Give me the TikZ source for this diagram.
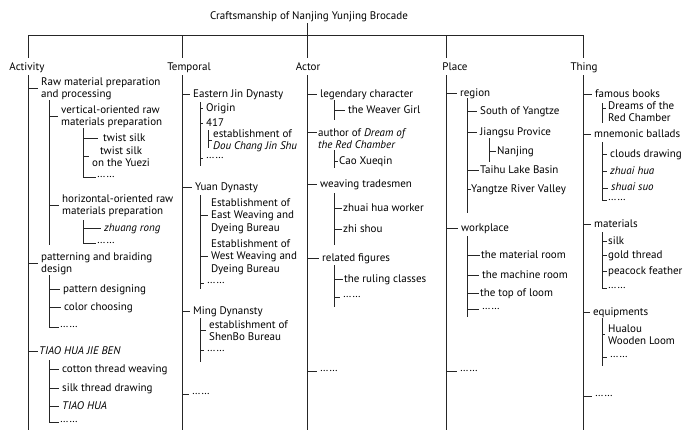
\documentclass[tikz,border=0pt]{standalone}
\usepackage{fontspec}
\setmainfont{PT Sans}
\newcommand\mytick[3][3pt]{\draw[ln] (#2 |- #3.west) -- ([xshift=-#1]#3.west);}
\begin{document}
\begin{tikzpicture}[x=1pt,y=-1pt,
  every node/.style={font=\fontsize{11}{12.5}\selectfont},
  lab/.style={anchor=base west, inner sep=0pt, text height=7.5pt, text depth=2.2pt},
  labm/.style={anchor=base west, inner sep=0pt, align=left},
  labc/.style={anchor=base west, inner sep=0pt, align=center},
  dotn/.style={anchor=base west, inner sep=0pt, text height=1.2pt, text depth=0pt},
  head/.style={anchor=base, inner sep=0pt, text height=7.5pt, text depth=2.2pt},
  ln/.style={line width=0.7pt, draw=black!85}]
\useasboundingbox (0,0) rectangle (686,432);

% title and column heads
\node[head] (title) at (309,19) {Craftsmanship of Nanjing Yunjing Brocade};
\node[head] (act) at (27,70) {Activity};
\node[head] (tem) at (189,70) {Temporal};
\node[head] (acr) at (308,70) {Actor};
\node[head] (pla) at (455,70) {Place};
\node[head] (thi) at (584,70) {Thing};
\coordinate (dA) at (28,35);
\coordinate (dT) at (182,35);
\coordinate (dC) at (307,35);
\coordinate (dP) at (446,35);
\coordinate (dH) at (583,35);
\draw[ln] ([yshift=-2pt]title.south -| dC) -- (dC);
\draw[ln] (dA) -- (dH);
\draw[ln] (dA) -- ([yshift=4pt]act.north -| dA);
\draw[ln] (dT) -- ([yshift=4pt]tem.north -| dT);
\draw[ln] (dC) -- ([yshift=4pt]acr.north -| dC);
\draw[ln] (dP) -- ([yshift=4pt]pla.north -| dP);
\draw[ln] (dH) -- ([yshift=4pt]thi.north -| dH);

% ---------------- Activity
\coordinate (vA) at (28,75); \coordinate (vAe) at (28,430);
\draw[ln] (vA) -- (vAe);
\node[labm] (a1) at (41,97.5) {Raw material preparation\\and processing};
\mytick{vA}{a1}
\coordinate (va1) at (49,100); \coordinate (va1e) at (49,245);
\draw[ln] (va1) -- (va1e);
\node[labm] (a11) at (61,125.5) {vertical-oriented raw\\materials preparation};
\mytick{va1}{a11}
\coordinate (va11) at (83,128); \coordinate (va11e) at (83,178);
\draw[ln] (va11) -- (va11e);
\node[lab] (a111) at (103,141) {twist silk};
\mytick[5pt]{va11}{a111}
\node[labc] (a112) at (92,166.5) {twist silk\\on the Yuezi};
\mytick{va11}{a112}
\node[dotn] (a113) at (97,177.6) {……};
\mytick[1pt]{va11}{a113}
\node[labm] (a12) at (62,214.5) {horizontal-oriented raw\\materials preparation};
\mytick{va1}{a12}
\coordinate (va12) at (83,220); \coordinate (va12e) at (83,244);
\draw[ln] (va12) -- (va12e);
\node[lab] (a121) at (104,231) {\textit{zhuang rong}};
\mytick{va12}{a121}
\node[dotn] (a122) at (97,243.6) {……};
\mytick[1pt]{va12}{a122}
\node[labm] (a2) at (41,272.5) {patterning and braiding\\design};
\mytick{vA}{a2}
\coordinate (va2) at (49,275); \coordinate (va2e) at (49,327);
\draw[ln] (va2) -- (va2e);
\node[lab] (a21) at (63,292) {pattern designing};
\mytick{va2}{a21}
\node[lab] (a22) at (64,310) {color choosing};
\mytick{va2}{a22}
\node[dotn] (a23) at (60,327.6) {……};
\mytick[1pt]{va2}{a23}
\node[lab] (a3) at (39,354) {\textit{TIAO HUA JIE BEN}};
\mytick[1pt]{vA}{a3}
\coordinate (va3) at (49,360); \coordinate (va3e) at (49,422);
\draw[ln] (va3) -- (va3e);
\node[lab] (a31) at (62,372) {cotton thread weaving};
\mytick{va3}{a31}
\node[lab] (a32) at (62,391) {silk thread drawing};
\mytick{va3}{a32}
\node[lab] (a33) at (62,409) {\textit{TIAO HUA}};
\mytick{va3}{a33}
\node[dotn] (a34) at (60,422.6) {……};
\mytick[1pt]{va3}{a34}

% ---------------- Temporal
\coordinate (vT) at (182,75); \coordinate (vTe) at (182,430);
\draw[ln] (vT) -- (vTe);
\node[lab] (t1) at (193,97) {Eastern Jin Dynasty};
\mytick{vT}{t1}
\coordinate (vt1) at (200,102); \coordinate (vt1e) at (200,166);
\draw[ln] (vt1) -- (vt1e);
\node[lab] (t11) at (206,111) {Origin};
\mytick{vt1}{t11}
\node[lab] (t12) at (206,126) {417};
\mytick{vt1}{t12}
\coordinate (vt12) at (208,130); \coordinate (vt12e) at (208,148);
\draw[ln] (vt12) -- (vt12e);
\node[labm] (t121) at (213,149.5) {establishment of\\\textit{Dou Chang Jin Shu}};
\mytick[1pt]{vt12}{t121}
\node[dotn] (t13) at (206,158.8) {……};
\mytick{vt1}{t13}
\node[lab] (t2) at (195,190) {Yuan Dynasty};
\mytick{vT}{t2}
\coordinate (vt2) at (200,195); \coordinate (vt2e) at (200,289);
\draw[ln] (vt2) -- (vt2e);
\node[labm] (t21) at (211,231) {Establishment of\\East Weaving and\\Dyeing Bureau};
\mytick{vt2}{t21}
\node[labm] (t22) at (211,272) {Establishment of\\West Weaving and\\Dyeing Bureau};
\mytick{vt2}{t22}
\node[dotn] (t23) at (207,283.6) {……};
\mytick{vt2}{t23}
\node[lab] (t3) at (193,314) {Ming Dynansty};
\mytick{vT}{t3}
\coordinate (vt3) at (200,318); \coordinate (vt3e) at (200,362);
\draw[ln] (vt3) -- (vt3e);
\node[labm] (t31) at (209,340.5) {establishment of\\ShenBo Bureau};
\mytick{vt3}{t31}
\node[dotn] (t32) at (207,351.2) {……};
\mytick{vt3}{t32}
\node[dotn] (t4) at (192,394.6) {……};
\mytick{vT}{t4}

% ---------------- Actor
\coordinate (vC) at (307,75); \coordinate (vCe) at (307,430);
\draw[ln] (vC) -- (vCe);
\node[lab] (c1) at (320,97) {legendary character};
\mytick{vC}{c1}
\coordinate (vc1) at (334,100); \coordinate (vc1e) at (334,120);
\draw[ln] (vc1) -- (vc1e);
\node[lab] (c11) at (348,113) {the Weaver Girl};
\mytick{vc1}{c11}
\node[labm] (c2) at (318,148.5) {author of \textit{Dream of}\\\textit{the Red Chamber}};
\draw[ln] ([yshift=16.5pt]c2.base -| vC) -- ([xshift=-1pt,yshift=16.5pt]c2.base west);
\coordinate (vc2) at (334,150); \coordinate (vc2e) at (334,168);
\draw[ln] (vc2) -- (vc2e);
\node[lab] (c21) at (339,164) {Cao Xueqin};
\mytick[1pt]{vc2}{c21}
\node[lab] (c3) at (320,187) {weaving tradesmen};
\mytick{vC}{c3}
\coordinate (vc3) at (334,193); \coordinate (vc3e) at (334,245);
\draw[ln] (vc3) -- (vc3e);
\node[lab] (c31) at (343,211) {zhuai hua worker};
\mytick[1pt]{vc3}{c31}
\node[lab] (c32) at (343,232) {zhi shou};
\mytick[1pt]{vc3}{c32}
\node[lab] (c4) at (322,261) {related figures};
\mytick{vC}{c4}
\coordinate (vc4) at (334,265); \coordinate (vc4e) at (334,307);
\draw[ln] (vc4) -- (vc4e);
\node[lab] (c41) at (344,282) {the ruling classes};
\mytick[1pt]{vc4}{c41}
\node[dotn] (c42) at (343,297.6) {……};
\mytick{vc4}{c42}
\node[dotn] (c5) at (320,371.6) {……};
\mytick{vC}{c5}

% ---------------- Place
\coordinate (vP) at (446,75); \coordinate (vPe) at (446,430);
\draw[ln] (vP) -- (vPe);
\node[lab] (p1) at (460,96) {region};
\mytick{vP}{p1}
\coordinate (vp1) at (467,98); \coordinate (vp1e) at (467,213);
\draw[ln] (vp1) -- (vp1e);
\node[lab] (p11) at (480,114) {South of Yangtze};
\mytick{vp1}{p11}
\node[lab] (p12) at (480,135) {Jiangsu Provice};
\mytick{vp1}{p12}
\coordinate (vp12) at (489,138); \coordinate (vp12e) at (489,162);
\draw[ln] (vp12) -- (vp12e);
\node[lab] (p121) at (497,154) {Nanjing};
\mytick[1pt]{vp12}{p121}
\node[lab] (p13) at (480,173) {Taihu Lake Basin};
\mytick[1pt]{vp1}{p13}
\node[lab] (p14) at (471,192) {Yangtze River Valley};
\mytick[0.5pt]{vp1}{p14}
\node[lab] (p2) at (461,231) {workplace};
\mytick{vP}{p2}
\coordinate (vp2) at (467,236); \coordinate (vp2e) at (467,317);
\draw[ln] (vp2) -- (vp2e);
\node[lab] (p21) at (481,258) {the material room};
\mytick[1pt]{vp2}{p21}
\node[lab] (p22) at (482,278) {the machine room};
\mytick{vp2}{p22}
\node[lab] (p23) at (480,296) {the top of loom};
\mytick[1pt]{vp2}{p23}
\node[dotn] (p24) at (482,309.6) {……};
\mytick{vp2}{p24}
\node[dotn] (p3) at (460,371.6) {……};
\mytick{vP}{p3}

% ---------------- Thing
\coordinate (vH) at (583,75); \coordinate (vHe) at (583,430);
\draw[ln] (vH) -- (vHe);
\node[lab] (h1) at (595,97) {famous books};
\mytick{vH}{h1}
\coordinate (vh1) at (602,103); \coordinate (vh1e) at (602,123);
\draw[ln] (vh1) -- (vh1e);
\node[labm] (h11) at (608,121.5) {Dreams of the\\Red Chamber};
\draw[ln] ([yshift=13.5pt]h11.base -| vh1) -- ([xshift=-2pt,yshift=13.5pt]h11.base west);
\node[lab] (h2) at (594,137) {mnemonic ballads};
\mytick{vH}{h2}
\coordinate (vh2) at (602,142); \coordinate (vh2e) at (602,201);
\draw[ln] (vh2) -- (vh2e);
\node[lab] (h21) at (610,157) {clouds drawing};
\mytick{vh2}{h21}
\node[lab] (h22) at (610,174) {\textit{zhuai hua}};
\mytick{vh2}{h22}
\node[lab] (h23) at (611,190.5) {\textit{shuai suo}};
\mytick{vh2}{h23}
\node[dotn] (h24) at (608,200.8) {……};
\mytick[1pt]{vh2}{h24}
\node[lab] (h3) at (594,227) {materials};
\mytick{vH}{h3}
\coordinate (vh3) at (602,232); \coordinate (vh3e) at (602,288);
\draw[ln] (vh3) -- (vh3e);
\node[lab] (h31) at (608,244) {silk};
\mytick[1pt]{vh3}{h31}
\node[lab] (h32) at (608,258) {gold thread};
\mytick[1pt]{vh3}{h32}
\node[lab] (h33) at (608,274) {peacock feather};
\mytick[1pt]{vh3}{h33}
\node[dotn] (h34) at (608,288.6) {……};
\mytick[1pt]{vh3}{h34}
\node[lab] (h4) at (593,315) {equipments};
\mytick{vH}{h4}
\coordinate (vh4) at (602,318); \coordinate (vh4e) at (602,366);
\draw[ln] (vh4) -- (vh4e);
\node[labm] (h41) at (608,344.5) {Hualou\\Wooden Loom};
\mytick{vh4}{h41}
\node[dotn] (h42) at (610,357.6) {……};
\mytick{vh4}{h42}
\node[dotn] (h5) at (595,396.6) {……};
\mytick{vH}{h5}
\end{tikzpicture}
\end{document}
